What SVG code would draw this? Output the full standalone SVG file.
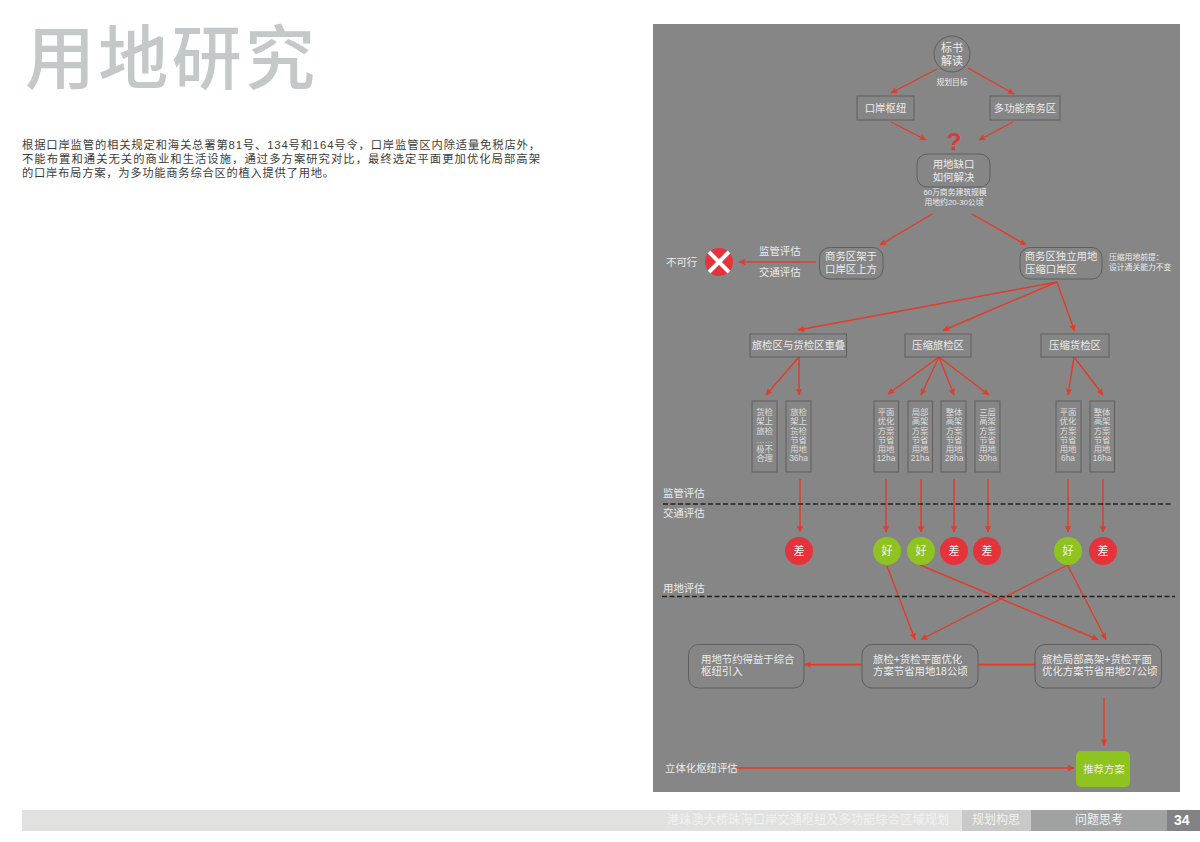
<svg xmlns="http://www.w3.org/2000/svg" width="1200" height="842" viewBox="0 0 1200 842">
<style>
text{font-family:"Liberation Sans","Noto Sans CJK SC",sans-serif;fill:#ececec;font-size:10.4px}
.m{text-anchor:middle}
.s{font-size:7.8px}
.n{font-size:8.4px;fill:#dedede;text-anchor:middle}
.box{fill:#868686;stroke:#5e5e5e;stroke-width:1}
.c{stroke:#e53a26;stroke-width:1.4;fill:none}
.a{marker-end:url(#ah)}
.dash{stroke:#222;stroke-width:1.5;stroke-dasharray:5 2.5;fill:none}
.red{fill:#e5333b}
.green{fill:#8fc31f}
.v{font-size:11px;fill:#f4f4f4;text-anchor:middle}
.bar{font-size:12px;fill:#f2f2f2}
</style>
<defs>
<marker id="ah" markerUnits="userSpaceOnUse" markerWidth="8" markerHeight="8" refX="6.5" refY="4" orient="auto">
<path d="M0 0.8L7 4L0 7.2L1.5 4Z" fill="#e53a26"/>
</marker>
</defs>
<rect width="1200" height="842" fill="#fff"/>
<g id="title">
<text x="25" y="84" textLength="290" lengthAdjust="spacing" style="font-size:70px;fill:#c3c8c8;font-weight:500;font-family:'Noto Sans CJK SC',sans-serif">用地研究</text>
</g>
<g id="intro">
<text x="22" y="149" textLength="518" style="font-size:11.3px;fill:#3c3c3c">根据口岸监管的相关规定和海关总署第81号、134号和164号令，口岸监管区内除适量免税店外，</text>
<text x="22" y="163" textLength="518" style="font-size:11.3px;fill:#3c3c3c">不能布置和通关无关的商业和生活设施，通过多方案研究对比，最终选定平面更加优化局部高架</text>
<text x="22" y="177" textLength="312" style="font-size:11.3px;fill:#3c3c3c">的口岸布局方案，为多功能商务综合区的植入提供了用地。</text>
</g>
<rect id="panel" x="653" y="24" width="527" height="768" fill="#868686"/>
<g id="connectors">
<path class="c a" d="M937 69L891 93"/>
<path class="c a" d="M968 68L1014 94"/>
<path class="c a" d="M891 122L926 140"/>
<path class="c a" d="M1013 122L979 140"/>
<path class="c a" d="M932 214L880 245"/>
<path class="c a" d="M972 214L1026 245"/>
<path class="c a" d="M816 262L739 262"/>
<path class="c a" d="M1057 282L798 330"/>
<path class="c a" d="M1057 282L943 330.5"/>
<path class="c a" d="M1057 282L1074.500 331"/>
<path class="c a" d="M799 357L766 395"/>
<path class="c a" d="M799 357L799 395"/>
<path class="c a" d="M939 357L888 394"/>
<path class="c a" d="M939 357L921 395"/>
<path class="c a" d="M939 357L954 395"/>
<path class="c a" d="M939 357L989 395"/>
<path class="c a" d="M1074 357L1068 395"/>
<path class="c a" d="M1074 357L1103 395"/>
<path class="c a" d="M800 479V532"/>
<path class="c a" d="M886 479V532"/>
<path class="c a" d="M921 479V532"/>
<path class="c a" d="M954 479V532"/>
<path class="c a" d="M988 479V532"/>
<path class="c a" d="M1068 479V532"/>
<path class="c a" d="M1103 479V532"/>
<path class="c a" d="M887 566L915 639.500"/>
<path class="c a" d="M920 565L1098 639.500"/>
<path class="c a" d="M1067.500 565L921 639.500"/>
<path class="c a" d="M1067.500 565L1106 639.500"/>
<path class="c" d="M1035 664.600H978" style="stroke-width:1.6"/>
<path class="c a" d="M862 664.600H804.500" style="stroke-width:1.6"/>
<path class="c a" d="M1104 698V745.500"/>
<path class="c a" d="M736 768H1074"/>
<path class="dash" d="M663 504H1173"/>
<path class="dash" d="M662 596.500H1175"/>
</g>
<g id="n-biaoshu"><circle cx="952" cy="54" r="18" class="box"/><text class="m" x="952" y="52" style="font-size:11px">标书</text><text class="m" x="952" y="65" style="font-size:11px">解读</text></g>
<g id="n-guihua"><text class="s m" x="952" y="84.500">规划目标</text></g>
<g id="n-kouan"><rect x="857" y="96" width="57" height="24" class="box"/><text class="m" x="885.500" y="112">口岸枢纽</text></g>
<g id="n-duogongneng"><rect x="990" y="96" width="70" height="24" class="box"/><text class="m" x="1025" y="112">多功能商务区</text></g>
<g id="n-question"><text class="m" x="954" y="150" style="font-size:24px;fill:#e5333b;font-weight:bold">?</text></g>
<g id="n-quekou"><rect x="917" y="154" width="73" height="33" rx="10" class="box"/><text class="m" x="953.500" y="168">用地缺口</text><text class="m" x="953.500" y="181">如何解决</text></g>
<g id="n-note1"><text class="s m" x="955" y="195">60万商务建筑规模</text><text class="s m" x="954" y="205">用地约20-30公顷</text></g>
<g id="n-jiayu"><rect x="819.500" y="247.500" width="63.500" height="31.500" rx="10" class="box"/><text class="m" x="851" y="260">商务区架于</text><text class="m" x="851" y="273">口岸区上方</text></g>
<g id="n-duli"><rect x="1020" y="247.500" width="82" height="31.500" rx="10" class="box"/><text class="m" x="1061" y="260">商务区独立用地</text><text x="1025" y="273">压缩口岸区</text></g>
<g id="n-note2"><text class="s" x="1109" y="260">压缩用地前提：</text><text class="s" x="1109" y="270">设计通关能力不变</text></g>
<g id="n-x"><circle cx="719" cy="262" r="14" class="red"/><path d="M709 252L729 272M729 252L709 272" stroke="#fff" stroke-width="4" fill="none"/></g>
<g id="n-bukexing"><text x="666" y="265.500">不可行</text></g>
<g id="n-eval1"><text x="759" y="255">监管评估</text><text x="759" y="275.500">交通评估</text></g>
<g id="n-chongdie"><rect x="750" y="334" width="96.500" height="23" class="box"/><text class="m" x="798.500" y="349">旅检区与货检区重叠</text></g>
<g id="n-lvjian"><rect x="905" y="334" width="66" height="23" class="box"/><text class="m" x="938" y="349">压缩旅检区</text></g>
<g id="n-huojian"><rect x="1041" y="334" width="68" height="23" class="box"/><text class="m" x="1075" y="349">压缩货检区</text></g>
<g id="n-o1"><rect x="752" y="401" width="25" height="71" class="box"/><text class="n" x="764.500" y="415">货检</text><text class="n" x="764.500" y="424">架上</text><text class="n" x="764.500" y="433.500">旅检</text><text class="n" x="764.500" y="443">……</text><text class="n" x="764.500" y="452">极不</text><text class="n" x="764.500" y="461">合理</text></g>
<g id="n-o2"><rect x="786" y="401" width="25" height="71" class="box"/><text class="n" x="798.500" y="415">旅检</text><text class="n" x="798.500" y="424">架上</text><text class="n" x="798.500" y="433.500">货检</text><text class="n" x="798.500" y="443">节省</text><text class="n" x="798.500" y="452">用地</text><text class="n" x="798.500" y="461">36ha</text></g>
<g id="n-o3"><rect x="874" y="401" width="24.500" height="71" class="box"/><text class="n" x="886" y="415">平面</text><text class="n" x="886" y="424">优化</text><text class="n" x="886" y="433.500">方案</text><text class="n" x="886" y="443">节省</text><text class="n" x="886" y="452">用地</text><text class="n" x="886" y="461">12ha</text></g>
<g id="n-o4"><rect x="908" y="401" width="24.500" height="71" class="box"/><text class="n" x="920" y="415">局部</text><text class="n" x="920" y="424">高架</text><text class="n" x="920" y="433.500">方案</text><text class="n" x="920" y="443">节省</text><text class="n" x="920" y="452">用地</text><text class="n" x="920" y="461">21ha</text></g>
<g id="n-o5"><rect x="941" y="401" width="25" height="71" class="box"/><text class="n" x="954" y="415">整体</text><text class="n" x="954" y="424">高架</text><text class="n" x="954" y="433.500">方案</text><text class="n" x="954" y="443">节省</text><text class="n" x="954" y="452">用地</text><text class="n" x="954" y="461">28ha</text></g>
<g id="n-o6"><rect x="975" y="401" width="25" height="71" class="box"/><text class="n" x="987.500" y="415">三层</text><text class="n" x="987.500" y="424">高架</text><text class="n" x="987.500" y="433.500">方案</text><text class="n" x="987.500" y="443">节省</text><text class="n" x="987.500" y="452">用地</text><text class="n" x="987.500" y="461">30ha</text></g>
<g id="n-o7"><rect x="1056" y="401" width="25" height="71" class="box"/><text class="n" x="1068" y="415">平面</text><text class="n" x="1068" y="424">优化</text><text class="n" x="1068" y="433.500">方案</text><text class="n" x="1068" y="443">节省</text><text class="n" x="1068" y="452">用地</text><text class="n" x="1068" y="461">6ha</text></g>
<g id="n-o8"><rect x="1090" y="401" width="24.500" height="71" class="box"/><text class="n" x="1102" y="415">整体</text><text class="n" x="1102" y="424">高架</text><text class="n" x="1102" y="433.500">方案</text><text class="n" x="1102" y="443">节省</text><text class="n" x="1102" y="452">用地</text><text class="n" x="1102" y="461">16ha</text></g>
<g id="n-labels"><text x="663" y="497">监管评估</text><text x="663" y="517">交通评估</text><text x="663" y="592">用地评估</text></g>
<g id="n-r1"><circle cx="799" cy="551" r="14" class="red"/><text class="v" x="799" y="554.500">差</text></g>
<g id="n-r2"><circle cx="887" cy="551" r="14" class="green"/><text class="v" x="887" y="554.500">好</text></g>
<g id="n-r3"><circle cx="921" cy="551" r="14" class="green"/><text class="v" x="921" y="554.500">好</text></g>
<g id="n-r4"><circle cx="954" cy="551" r="14" class="red"/><text class="v" x="954" y="554.500">差</text></g>
<g id="n-r5"><circle cx="987" cy="551" r="14" class="red"/><text class="v" x="987" y="554.500">差</text></g>
<g id="n-r6"><circle cx="1068" cy="551" r="14" class="green"/><text class="v" x="1068" y="554.500">好</text></g>
<g id="n-r7"><circle cx="1103" cy="551" r="14" class="red"/><text class="v" x="1103" y="554.500">差</text></g>
<g id="n-yinru"><rect x="688.500" y="644.500" width="115.500" height="43.500" rx="10" class="box"/><text x="701" y="662.500">用地节约得益于综合</text><text x="701" y="675">枢纽引入</text></g>
<g id="n-18"><rect x="862" y="644.500" width="116" height="43.500" rx="10" class="box"/><text x="873" y="662.500">旅检+货检平面优化</text><text x="873" y="675">方案节省用地18公顷</text></g>
<g id="n-27"><rect x="1035" y="644.500" width="126.500" height="43.500" rx="10" class="box"/><text x="1042" y="662.500">旅检局部高架+货检平面</text><text x="1042" y="675">优化方案节省用地27公顷</text></g>
<g id="n-tuijian"><rect x="1076" y="751" width="54" height="36" rx="5" class="green"/><text class="m" x="1104" y="772.500">推荐方案</text></g>
<g id="n-litihua"><text x="665" y="771.500">立体化枢纽评估</text></g>
<g id="footer">
<rect x="22" y="810" width="940" height="21" fill="#e1e1df"/>
<rect x="962" y="810" width="69" height="21" fill="#c9c9c7"/>
<rect x="1031" y="810" width="136" height="21" fill="#a0a2a2"/>
<rect x="1167" y="810" width="33" height="21" fill="#808285"/>
<text class="bar" x="667" y="824" textLength="282">港珠澳大桥珠海口岸交通枢纽及多功能综合区域规划</text>
<text class="bar" x="972" y="824">规划构思</text>
<text class="bar" x="1075" y="824">问题思考</text>
<text x="1174" y="825" style="font-size:14px;font-weight:bold;fill:#fff">34</text>
</g>
</svg>
